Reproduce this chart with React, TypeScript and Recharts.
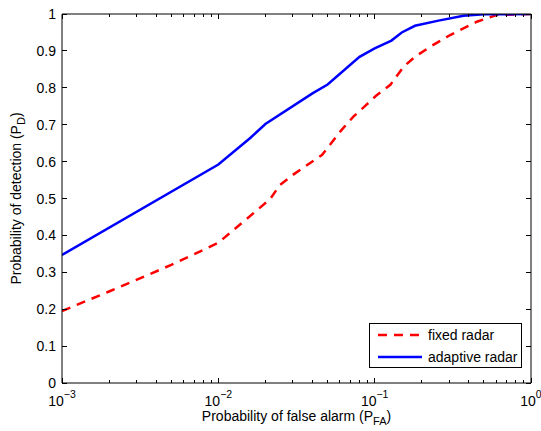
import { LineChart, Line, XAxis, YAxis, Legend, Label } from 'recharts'

// ROC curves: probability of detection vs probability of false alarm
const fixedPfa = [0.001, 0.002, 0.005, 0.01, 0.0108, 0.0214, 0.0248, 0.03, 0.046, 0.0615, 0.0731, 0.087, 0.103, 0.126, 0.153, 0.181, 0.226, 0.304, 0.45, 0.6, 1]
const fixedPd = [0.195, 0.248, 0.32, 0.38, 0.392, 0.498, 0.537, 0.564, 0.618, 0.686, 0.722, 0.751, 0.78, 0.808, 0.857, 0.884, 0.911, 0.943, 0.979, 0.997, 1]

const adaptivePfa = [0.001, 0.01, 0.016, 0.02, 0.04, 0.05, 0.08, 0.1, 0.128, 0.149, 0.181, 0.256, 0.37, 0.5, 1]
const adaptivePd = [0.347, 0.592, 0.664, 0.702, 0.785, 0.809, 0.884, 0.907, 0.928, 0.95, 0.968, 0.982, 0.995, 0.999, 1]

const majorX = [0.001, 0.01, 0.1, 1]
const xExponents = ['\u22123', '\u22122', '\u22121', '0']
const xTicks = [
  0.001, 0.002, 0.003, 0.004, 0.005, 0.006, 0.007, 0.008, 0.009,
  0.01, 0.02, 0.03, 0.04, 0.05, 0.06, 0.07, 0.08, 0.09,
  0.1, 0.2, 0.3, 0.4, 0.5, 0.6, 0.7, 0.8, 0.9, 1,
]
const yTicks = [0, 0.1, 0.2, 0.3, 0.4, 0.5, 0.6, 0.7, 0.8, 0.9, 1]
const yTickLabels = ['0', '0.1', '0.2', '0.3', '0.4', '0.5', '0.6', '0.7', '0.8', '0.9', '1']

const seriesNames = ['fixed radar', 'adaptive radar']
const seriesColors = ['#ff0000', '#0000ff']
const seriesDash = ['9 7', undefined]

const font = '"Liberation Sans", Arial, Helvetica, sans-serif'

const fixedData = fixedPfa.map((x, i) => ({ x, y: fixedPd[i] }))
const adaptiveData = adaptivePfa.map((x, i) => ({ x, y: adaptivePd[i] }))

function BottomTick(props: any) {
  const { x, y, payload } = props
  const i = majorX.indexOf(payload.value)
  return (
    <g>
      <line x1={x} y1={y} x2={x} y2={y - (i >= 0 ? 5 : 3)} stroke="#000" shapeRendering="crispEdges" />
      {i >= 0 && (
        <text x={x} y={y + 23} textAnchor="middle" fontSize={14} fontFamily={font} fill="#000">
          10<tspan dy={-8} fontSize={10.5}>{xExponents[i]}</tspan>
        </text>
      )}
    </g>
  )
}

function TopTick(props: any) {
  const { x, y, payload } = props
  const major = majorX.includes(payload.value)
  return <line x1={x} y1={y} x2={x} y2={y + (major ? 5 : 3)} stroke="#000" shapeRendering="crispEdges" />
}

function LeftTick(props: any) {
  const { x, y, payload } = props
  const i = yTicks.indexOf(payload.value)
  return (
    <g>
      <line x1={x} y1={y} x2={x + 5} y2={y} stroke="#000" shapeRendering="crispEdges" />
      <text x={x - 6} y={y} dy={5} textAnchor="end" fontSize={14} fontFamily={font} fill="#000">
        {yTickLabels[i]}
      </text>
    </g>
  )
}

function RightTick(props: any) {
  const { x, y } = props
  return <line x1={x} y1={y} x2={x - 5} y2={y} stroke="#000" shapeRendering="crispEdges" />
}

function XTitle(props: any) {
  const { viewBox } = props
  return (
    <text x={viewBox.x + viewBox.width / 2} y={viewBox.y + 38} textAnchor="middle" fontSize={14} fontFamily={font} fill="#000">
      Probability of false alarm (P<tspan dy={4} fontSize={11}>FA</tspan><tspan dy={-4}>)</tspan>
    </text>
  )
}

function YTitle(props: any) {
  const { viewBox } = props
  const cx = 21
  const cy = viewBox.y + viewBox.height / 2
  return (
    <text x={cx} y={cy} transform={`rotate(-90, ${cx}, ${cy})`} textAnchor="middle" fontSize={14} fontFamily={font} fill="#000">
      Probability of detection (P<tspan dy={4} fontSize={11}>D</tspan><tspan dy={-4}>)</tspan>
    </text>
  )
}

function LegendBox() {
  return (
    <div style={{ position: 'relative', width: 153, height: 45, border: '1px solid #000', background: '#fff', boxSizing: 'border-box', fontFamily: font, fontSize: 14, color: '#000' }}>
      {seriesNames.map((name, i) => (
        <div key={name} style={{ position: 'absolute', left: 8, top: 3 + i * 22, height: 16, display: 'flex', alignItems: 'center', whiteSpace: 'nowrap' }}>
          <svg width={44} height={6} style={{ display: 'block' }}>
            <line x1={0} y1={3} x2={44} y2={3} stroke={seriesColors[i]} strokeWidth={2.5} strokeDasharray={seriesDash[i]} />
          </svg>
          <span style={{ marginLeft: 6, lineHeight: '16px' }}>{name}</span>
        </div>
      ))}
    </div>
  )
}

export default function App() {
  return (
    <div style={{ position: 'absolute', left: 0, top: 0, width: 541, height: 431, background: '#fff' }}>
      <LineChart width={541} height={431} margin={{ top: 13, right: 9, left: 0, bottom: 0 }}>
        <XAxis
          type="number" dataKey="x" scale="log" domain={[0.001, 1]} allowDataOverflow
          ticks={xTicks} interval={0} tickSize={0} tickMargin={0} tickLine={false}
          tick={<BottomTick />} height={48} stroke="#000"
        >
          <Label content={<XTitle />} />
        </XAxis>
        <XAxis
          xAxisId="top" orientation="top" type="number" dataKey="x" scale="log" domain={[0.001, 1]} allowDataOverflow
          ticks={xTicks} interval={0} tickSize={0} tickMargin={0} tickLine={false}
          tick={<TopTick />} height={1} stroke="#000"
        />
        <YAxis
          type="number" domain={[0, 1]} ticks={yTicks} interval={0} allowDataOverflow
          tickSize={0} tickMargin={0} tickLine={false} tick={<LeftTick />} width={62} stroke="#000"
        >
          <Label content={<YTitle />} />
        </YAxis>
        <YAxis
          yAxisId="right" orientation="right" type="number" domain={[0, 1]} ticks={yTicks} interval={0} allowDataOverflow
          tickSize={0} tickMargin={0} tickLine={false} tick={<RightTick />} width={1} stroke="#000"
        />
        <Line data={fixedData} dataKey="y" name={seriesNames[0]} type="linear" stroke={seriesColors[0]} strokeWidth={2.5} strokeDasharray={seriesDash[0]} dot={false} isAnimationActive={false} />
        <Line data={adaptiveData} dataKey="y" name={seriesNames[1]} type="linear" stroke={seriesColors[1]} strokeWidth={2.5} dot={false} isAnimationActive={false} />
        <Legend
          content={<LegendBox />} layout="horizontal" verticalAlign="middle" align="center"
          wrapperStyle={{ left: 369, top: 323, width: 153, height: 45 }}
        />
      </LineChart>
    </div>
  )
}
